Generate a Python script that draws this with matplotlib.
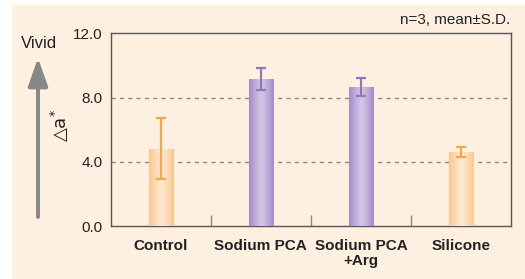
import numpy as np
import matplotlib
matplotlib.use("Agg")
import matplotlib.pyplot as plt
from matplotlib.patches import Rectangle
from matplotlib.colors import LinearSegmentedColormap

categories = ["Control", "Sodium PCA", "Sodium PCA\n+Arg", "Silicone"]
means = [4.8, 9.15, 8.65, 4.6]
sds = [1.9, 0.68, 0.55, 0.3]
groups = ["orange", "purple", "purple", "orange"]
y_ticks = [0.0, 4.0, 8.0, 12.0]

BG = "#fef0e1"
palette = {
    "orange": {"edge": "#ffc58c", "mid": "#ffe9d2", "err": "#f7a646"},
    "purple": {"edge": "#a48ac8", "mid": "#d2c6e6", "err": "#9474bc"},
}

plt.rcParams["font.family"] = ["Liberation Sans", "DejaVu Sans"]

fig = plt.figure(figsize=(5.25, 2.79), dpi=100, facecolor="white")
fig.patches.append(Rectangle((12 / 525, 0), 1, 1 - 5 / 279, transform=fig.transFigure,
                             facecolor=BG, edgecolor="none", zorder=-10))

ax = fig.add_axes([110.7 / 525, 1 - 226 / 279, 400.3 / 525, 192.7 / 279])
ax.set_facecolor(BG)

x = np.arange(len(categories))
width = 0.24
bars = ax.bar(x, means, width=width, color="none", edgecolor="none", zorder=3)

# horizontal gradient: darker edges, lighter centre
grad = np.abs(np.linspace(-1, 1, 64)) ** 1.2
for rect, g in zip(bars, groups):
    cmap = LinearSegmentedColormap.from_list(g, [palette[g]["mid"], palette[g]["edge"]])
    x0, y0 = rect.get_x(), rect.get_y()
    im = ax.imshow(grad[np.newaxis, :], cmap=cmap, aspect="auto", zorder=3,
                   extent=[x0, x0 + rect.get_width(), y0, y0 + rect.get_height()])
    im.set_clip_path(rect)

for xi, m, s, g in zip(x, means, sds, groups):
    ax.errorbar(xi, m, yerr=s, fmt="none", ecolor=palette[g]["err"],
                elinewidth=1.6, capsize=3.4, capthick=1.6, zorder=4)

ax.set_xlim(-0.5, 3.5)
ax.set_ylim(0, 12)
ax.set_yticks(y_ticks)
ax.set_yticklabels([f"{t:.1f}" for t in y_ticks], fontsize=11, color="#222222")
ax.tick_params(axis="y", length=0, pad=6)
ax.set_xticks(x)
ax.set_xticklabels(categories, fontsize=11, fontweight="bold", color="#222222",
                   linespacing=1.15)
ax.tick_params(axis="x", which="major", length=0, pad=9)
ax.set_xticks([0.5, 1.5, 2.5], minor=True)
ax.tick_params(axis="x", which="minor", direction="in", length=8, width=1.0, color="#888888")

for t in [4.0, 8.0]:
    ax.axhline(t, color="#888888", linestyle=(0, (3, 3)), linewidth=1.0, zorder=1)

for sp in ax.spines.values():
    sp.set_color("#555555")
    sp.set_linewidth(1.0)

fig.text(510 / 525, 1 - 20 / 279, "n=3, mean\u00b1S.D.", ha="right", va="center",
         fontsize=11, color="#222222")
fig.text(38.5 / 525, 1 - 43 / 279, "Vivid", ha="center", va="center",
         fontsize=12, color="#222222")
ax.annotate("", xy=(38 / 525, 1 - 58 / 279), xytext=(38 / 525, 1 - 217 / 279),
            xycoords="figure fraction", textcoords="figure fraction",
            arrowprops=dict(arrowstyle="-|>,head_length=1.7,head_width=0.6",
                            color="#888888", lw=2.8, shrinkA=0, shrinkB=0))
fig.text(60 / 525, 1 - 126 / 279, "\u25b3a$^{*}$", rotation=90, ha="center", va="center",
         fontsize=13, color="#222222", family=["DejaVu Sans"])

fig.savefig("out.png", dpi=100, facecolor=fig.get_facecolor())
